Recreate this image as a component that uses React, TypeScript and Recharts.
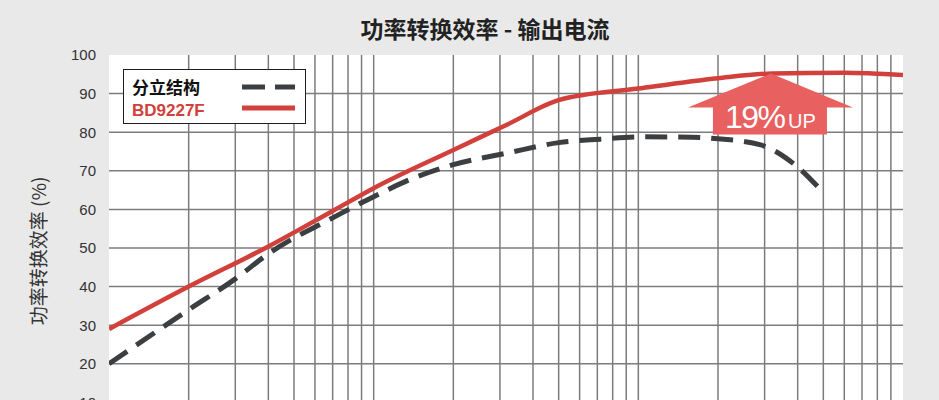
import React from 'react';
import {
  LineChart,
  Line,
  XAxis,
  YAxis,
  CartesianGrid,
  ReferenceDot,
  ReferenceLine,
} from 'recharts';

// output current (log scale)
const bdCurrent = [1, 2, 4, 7, 10, 20, 32, 50, 100, 200, 320, 600, 1000];
const bdEfficiency = [29, 40, 50.4, 59.6, 65.5, 75.4, 82, 88.3, 91.3, 94, 95.2, 95.4, 94.8];

const discreteCurrent = [1, 2, 3, 4, 7, 10, 14, 20, 32, 50, 72, 100, 160, 200, 290, 390, 490];
const discreteEfficiency = [20, 34, 42, 48.5, 57.8, 63.3, 68, 71.6, 74.6, 77.3, 78.2, 78.8, 78.7, 78.3, 76.7, 71.6, 65];

const yTicks = [0, 10, 20, 30, 40, 50, 60, 70, 80, 90, 100];
const yGridValues = [0, 10, 20, 30, 40, 50, 60, 70, 80, 90];
const xGridValues = [
  2, 3, 4, 5, 6, 7, 8, 9, 10,
  20, 30, 40, 50, 60, 70, 80, 90, 100,
  200, 300, 400, 500, 600, 700, 800, 900,
];

const seriesNames = ['分立结构', 'BD9227F'];
const title = '功率转换效率 - 输出电流';
const yLabel = '功率转换效率 (%)';
const upLabel = ['19%', 'UP'];
// where the arrow tip touches the BD9227F curve
const arrowTip = { x: 317, y: 95.2 };

const bdData = bdCurrent.map((x, i) => ({ x, y: bdEfficiency[i] }));
const discreteData = discreteCurrent.map((x, i) => ({ x, y: discreteEfficiency[i] }));

const RED = '#d2403c';
const DARK = '#3b3f42';
const ARROW = '#e8605f';
const GRID = '#7c7c7c';
const BG = '#e9e9e9';
const LATIN = '"Liberation Sans", Arial, sans-serif';
const CJK = '"Noto Sans CJK SC", "Liberation Sans", sans-serif';

const LegendBox = () => (
  <div
    style={{
      position: 'absolute',
      left: 123,
      top: 69,
      width: 181,
      height: 53,
      background: '#fff',
      border: '1.5px solid #1e1e1e',
    }}
  >
    <svg width={181} height={53} style={{ position: 'absolute', left: 0, top: 0 }}>
      <text x={8} y={24} fontFamily={CJK} fontWeight={700} fontSize={17} fill="#111">
        {seriesNames[0]}
      </text>
      <text x={8} y={46} fontFamily={LATIN} fontWeight={700} fontSize={17} fill={RED}>
        {seriesNames[1]}
      </text>
      <line x1={118} x2={171} y1={17} y2={17} stroke={DARK} strokeWidth={5} strokeDasharray="23 10" />
      <line x1={118} x2={171} y1={38} y2={38} stroke={RED} strokeWidth={5} />
    </svg>
  </div>
);

const ArrowShape = (props: any) => {
  const { cx, cy } = props;
  if (cx == null || cy == null) return null;
  const headY = cy + 34;
  const bottomY = cy + 61;
  const pts = [
    [cx, cy],
    [cx + 82, headY],
    [cx + 56, headY],
    [cx + 56, bottomY],
    [cx - 58, bottomY],
    [cx - 58, headY],
    [cx - 83, headY],
  ]
    .map((p) => p.join(','))
    .join(' ');
  return (
    <g>
      <polygon points={pts} fill={ARROW} />
      <text x={cx - 46} y={cy + 54} fontFamily={LATIN} fontSize={32} fill="#fff" textLength={61}>
        {upLabel[0]}
      </text>
      <text x={cx + 17} y={cy + 54} fontFamily={LATIN} fontSize={20} fill="#fff">
        {upLabel[1]}
      </text>
    </g>
  );
};

const YLabel = (props: any) => {
  const { viewBox } = props;
  const cy = viewBox.y + viewBox.height / 2 + 3;
  const cx = 37;
  return (
    <text
      x={cx}
      y={cy}
      transform={`rotate(-90, ${cx}, ${cy})`}
      textAnchor="middle"
      dominantBaseline="central"
      fontFamily={CJK}
      fontSize={19}
      fill="#333"
    >
      {yLabel}
    </text>
  );
};

const App: React.FC = () => {
  return (
    <div
      style={{
        position: 'absolute',
        left: 0,
        top: 0,
        width: 939,
        height: 470,
        background: BG,
      }}
    >
      <div
        style={{
          position: 'absolute',
          left: 0,
          top: 12,
          width: 970,
          textAlign: 'center',
          fontFamily: CJK,
          fontSize: 23,
          fontWeight: 700,
          color: '#222',
          lineHeight: '32px',
        }}
      >
        {title}
      </div>
      <LineChart
        width={939}
        height={470}
        margin={{ top: 55, right: 36, bottom: 29, left: 0 }}
      >
        <CartesianGrid
          fill="#fff"
          stroke={GRID}
          strokeWidth={1.5}
          vertical={false}
          horizontalValues={yGridValues}
        />
        <XAxis
          dataKey="x"
          type="number"
          scale="log"
          domain={[1, 1000]}
          ticks={xGridValues}
          allowDataOverflow
          tick={false}
          axisLine={false}
          tickLine={false}
          height={0}
        />
        <YAxis
          type="number"
          domain={[0, 100]}
          ticks={yTicks}
          width={109}
          axisLine={false}
          tickLine={false}
          tickSize={0}
          tickMargin={13}
          tick={{ fontFamily: LATIN, fontSize: 15, fill: '#333' }}
          label={<YLabel />}
        />
        {xGridValues.map((v) => (
          <ReferenceLine key={v} x={v} stroke={GRID} strokeWidth={1.5} />
        ))}
        <Line
          data={discreteData}
          dataKey="y"
          name={seriesNames[0]}
          type="monotone"
          stroke={DARK}
          strokeWidth={5}
          strokeDasharray="22 11"
          dot={false}
          isAnimationActive={false}
        />
        <Line
          data={bdData}
          dataKey="y"
          name={seriesNames[1]}
          type="monotone"
          stroke={RED}
          strokeWidth={4.5}
          dot={false}
          isAnimationActive={false}
        />
        <ReferenceDot x={arrowTip.x} y={arrowTip.y} r={0} shape={<ArrowShape />} />
      </LineChart>
      <LegendBox />
    </div>
  );
};

export default App;
